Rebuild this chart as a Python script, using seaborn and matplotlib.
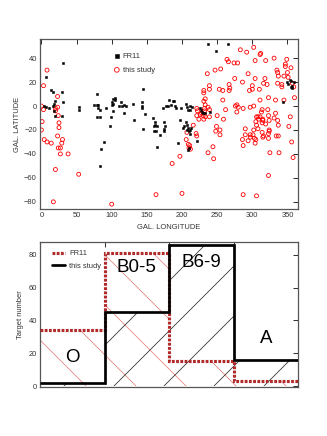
import matplotlib
matplotlib.use("Agg")
import matplotlib.pyplot as plt
import seaborn as sns
import numpy as np
import pandas as pd

# ---------------- data ----------------
fr11_lon = [6, 13, 17, 31, 29, 31, 29, 3, 7, 11, 17, 18, 19, 18, 19, 54, 54, 79, 75, 79, 81, 81, 83, 79, 83,
            85, 89, 83, 92, 97, 99, 100, 102, 104, 105, 102, 100, 102, 111, 113, 115, 117, 121, 117, 131, 132,
            143, 143, 143, 145, 145, 148, 159, 161, 160, 162, 164, 163, 160, 164, 168, 173, 175, 175, 176, 175,
            177, 180, 181, 184, 187, 189, 190, 191, 195, 197, 199, 201, 203, 205, 207, 207, 209, 210, 211, 209,
            210, 212, 213, 205, 207, 209, 211, 212, 214, 221, 225, 227, 229, 230, 232, 237, 240, 248, 265, 343,
            350, 353, 355, 356, 357, 355, 360, 351]
fr11_lat = [24, 13, 12, 36, 12, 3, -8, 0, -1, -2, 0, 2, 4, -4, -8, -1, -3, 10, 1, 1, 1, -2, -3, -9, -9,
            -36, -30, -50, -2, -17, -9, 3, 6, 7, 5, 2, 1, -4, 0, 3, 0, 1, 0, -6, 2, -12,
            3, 0, -2, 14, -19, -7, -10, -13, -17, -16, -17, -21, -21, -34, -24, -2, -21, -19, -17, -13,
            0, 0, 5, 1, 4, 4, 0, -2, -31, -12, -2, -18, -17, -13, -16, -20, -18, -21, -23, -37,
            -35, -20, -18, 2, -1, -3, -3, 0, -1, -29, -2, -3, -5, -6, -6, 52, -5, 46, 52, 3,
            20, 22, 21, 17, 15, 16, 20, 18]

study_lon = [0, 1, 0, 3, 8, 3, 4, 8, 14, 17, 20, 20, 23, 23, 24, 25, 25, 23, 24, 27, 27, 30, 29, 20, 38, 53,
             100, 163, 186, 197, 200, 206, 209, 212, 210, 211, 207, 216, 220, 221, 221, 222, 221, 224, 226, 228,
             231, 231, 233, 231, 233, 232, 232, 230, 233, 231, 236, 237, 239, 239, 239, 239, 237, 244, 245, 248,
             249, 247, 250, 253, 255, 254, 254, 258, 258, 259, 262, 264, 266, 267, 267, 268, 274, 275, 279, 276,
             278, 280, 278, 283, 286, 287, 286, 287, 287, 290, 290, 292, 294, 296, 294, 297, 297, 297, 300, 300,
             302, 304, 304, 302, 302, 301, 303, 304, 305, 306, 305, 306, 308, 309, 308, 306, 310, 311, 312, 311,
             311, 313, 314, 314, 315, 315, 314, 315, 316, 316, 318, 319, 319, 321, 322, 323, 323, 324, 324, 323,
             323, 324, 323, 325, 331, 331, 333, 333, 334, 335, 336, 337, 336, 336, 337, 337, 338, 342, 342, 345,
             345, 347, 347, 349, 350, 351, 352, 354, 355, 356, 357, 359, 358, 360]
study_lat = [0, -13, -20, 17, 30, -3, -28, -30, -31, -80, -4, -2, 8, -1, -8, -14, -18, -25, -35, -35, -40, -28, -31, -53, -40, -57,
             -82, -74, -48, -42, -73, -28, -32, -36, -35, -33, -22, -16, -23, -25, -2, -4, -8, -11, -7, -6,
             13, 11, 6, 4, 1, -2, -4, -8, -9, -11, 27, -1, -3, -9, 17, 14, -39, -34, -44, -21,
             -17, 30, -8, 14, 31, -20, -24, 13, 5, -11, -3, 39, 37, 18, 13, 15, 36, 23, 36, 0,
             1, -1, -5, 47, 20, -2, -28, -33, -74, -19, -24, 45, 27, 13, -29, -1, -24, -26, 17, 14,
             49, 38, 23, 0, -20, -24, -27, -31, -28, -9, -13, -16, -9, -11, -19, -75, 14, 43, 44, 5,
             -9, -5, -3, -14, -11, -12, -22, -26, -25, 19, 23, 38, -15, 18, -3, 7, -8, -12, -21, -27,
             -23, -20, -58, -39, -10, 40, 5, -6, -25, 30, 28, 25, 19, -12, -16, -25, -39, 18, 16, 5,
             25, 35, 33, 39, 28, 24, -17, -9, 32, -30, 19, 16, -43, 7]

classes = ["O", "B0-5", "B6-9", "A"]
fr11_counts = [34, 81, 15, 3]
study_counts = [2, 45, 86, 16]
label_y = [17.5, 72.5, 75.5, 29]

# ---------------- style ----------------
sns.set_theme(style="white")
plt.rcParams["font.family"] = ["Liberation Sans", "DejaVu Sans"]
plt.rcParams["hatch.linewidth"] = 0.35
DPI = 150
fig = plt.figure(figsize=(327 / DPI, 436 / DPI), dpi=DPI)
fig.patch.set_facecolor("white")

spine_col = "#555555"
txt_col = "#333333"
FS = 3.6
tick_kw = dict(direction="in", length=2.2, width=0.5, colors=txt_col, labelsize=FS,
               top=True, right=True, pad=1.5)

# ---------------- top: scatter ----------------
ax1 = fig.add_axes([40 / 327, 1 - 209 / 436, 258 / 327, 170 / 436])
df_fr = pd.DataFrame({"lon": fr11_lon, "lat": fr11_lat})
df_st = pd.DataFrame({"lon": study_lon, "lat": study_lat})
sns.scatterplot(data=df_fr, x="lon", y="lat", ax=ax1, marker="s", s=1.6, color="black",
                edgecolor="black", linewidth=0.25, label="FR11", zorder=3)
sns.scatterplot(data=df_st, x="lon", y="lat", ax=ax1, marker="o", s=3.6, facecolors="none",
                edgecolor="red", linewidth=0.4, label="this study", zorder=2)
ax1.set_xlim(-2, 365)
ax1.set_ylim(-86, 56)
ax1.set_xticks([0, 50, 100, 150, 200, 250, 300, 350])
ax1.set_yticks([-80, -60, -40, -20, 0, 20, 40])
ax1.tick_params(**tick_kw)
ax1.set_xlabel("GAL. LONGITUDE", fontsize=FS, labelpad=2.5, color=txt_col)
ax1.set_ylabel("GAL. LATITUDE", fontsize=FS, labelpad=1.5, color=txt_col)
for sp in ax1.spines.values():
    sp.set_color(spine_col)
    sp.set_linewidth(0.6)
leg1 = ax1.legend(loc="upper left", bbox_to_anchor=(0.26, 0.96), frameon=False, fontsize=FS,
                  handletextpad=0.4, labelspacing=0.9, markerscale=1.2, handlelength=0.8)
for t in leg1.get_texts():
    t.set_color(txt_col)

# ---------------- bottom: step histogram ----------------
ax2 = fig.add_axes([40 / 327, 1 - 387 / 436, 258 / 327, 145.3 / 436])
edges = np.arange(len(classes) + 1)
ax2.stairs(fr11_counts, edges, fill=True, facecolor="none", edgecolor="#e47a7a",
           hatch="\\", linewidth=0, zorder=1)
ax2.stairs(study_counts, edges, fill=True, facecolor="none", edgecolor="#222222",
           hatch="/", linewidth=0, zorder=1)
ax2.stairs(fr11_counts, edges, baseline=None, color="#b02a2a", linewidth=1.5,
           linestyle=(0, (0.9, 0.45)), label="FR11", zorder=3)
ax2.stairs(study_counts, edges, baseline=None, color="black", linewidth=1.3,
           label="this study", zorder=4)
for i, (c, y) in enumerate(zip(classes, label_y)):
    ax2.text(i + 0.5, y, c, fontsize=9, ha="center", va="center", color="black", zorder=5)
ax2.set_xlim(0, 4)
ax2.set_ylim(-0.6, 88)
ax2.set_xticks([0, 1, 2, 3, 4])
ax2.set_xticklabels([])
ax2.set_yticks([0, 20, 40, 60, 80])
ax2.tick_params(**tick_kw)
ax2.set_ylabel("Target number", fontsize=FS, labelpad=2, color=txt_col)
for sp in ax2.spines.values():
    sp.set_color(spine_col)
    sp.set_linewidth(0.6)
leg2 = ax2.legend(loc="upper left", bbox_to_anchor=(0.02, 0.99), frameon=False, fontsize=FS,
                  handlelength=1.8, handletextpad=0.5, labelspacing=0.7)
for t in leg2.get_texts():
    t.set_color(txt_col)

fig.savefig("out.png", dpi=DPI, facecolor="white")
